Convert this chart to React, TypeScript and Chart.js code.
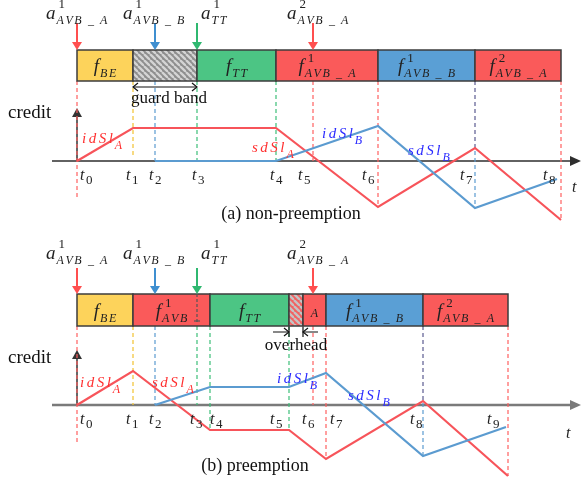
import React, { useEffect, useRef } from 'react';
import { Chart, registerables } from 'chart.js';
Chart.register(...registerables);

const W = 581;
const H = 485;

// ---------------- panel (a) non-preemption ----------------
const framesA_start = [77, 133, 197, 276, 378, 475];
const framesA_end = [133, 197, 276, 378, 475, 561];
const framesA_kind = ['BE', 'GB', 'TT', 'A', 'B', 'A'];
const framesA_base = ['f', '', 'f', 'f', 'f', 'f'];
const framesA_sup = ['', '', '', '1', '1', '2'];
const framesA_sub = ['BE', '', 'TT', 'AVB _ A', 'AVB _ B', 'AVB _ A'];

const arrA_x = [77, 155, 197, 313];
const arrA_kind = ['A', 'B', 'TT', 'A'];
const arrA_sup = ['1', '1', '1', '2'];
const arrA_sub = ['AVB _ A', 'AVB _ B', 'TT', 'AVB _ A'];
const arrA_labelX = [46, 123, 201, 287];

const creditA_A_t = [77, 133, 276, 378, 475, 561];
const creditA_A_v = [0, 33, 33, -46, 13, -59];
const creditA_B_t = [155, 276, 378, 475, 557];
const creditA_B_v = [0, 0, 35, -47, -18];

const guidesA_t = [77, 133, 155, 197, 276, 313, 378, 475, 475, 561];
const guidesA_kind = ['A', 'BE', 'B', 'TT', 'TT', 'A', 'A', 'A', 'B', 'A'];
const guidesA_end = [-37, 5, 0, 0, 0, 0, -46, 13, -47, -59];

const ticksA_t = [80, 126, 149, 192, 270, 298, 362, 460, 543];
const ticksA_label = ['0', '1', '2', '3', '4', '5', '6', '7', '8'];

const curveLblA_text = ['idSl', 'sdSl', 'idSl', 'sdSl'];
const curveLblA_sub = ['A', 'A', 'B', 'B'];
const curveLblA_t = [82, 252, 322, 408];
const curveLblA_v = [18, 9, 23, 6];

// ---------------- panel (b) preemption ----------------
const framesB_start = [77, 133, 210, 289, 303, 326, 423];
const framesB_end = [133, 210, 289, 303, 326, 423, 508];
const framesB_kind = ['BE', 'A', 'TT', 'OH', 'A', 'B', 'A'];
const framesB_base = ['f', 'f', 'f', '', '', 'f', 'f'];
const framesB_sup = ['', '1', '', '', '', '1', '2'];
const framesB_sub = ['BE', 'AVB', 'TT', '', 'A', 'AVB _ B', 'AVB _ A'];

const arrB_x = [77, 155, 197, 313];
const arrB_kind = ['A', 'B', 'TT', 'A'];
const arrB_sup = ['1', '1', '1', '2'];
const arrB_sub = ['AVB _ A', 'AVB _ B', 'TT', 'AVB _ A'];
const arrB_labelX = [46, 123, 201, 287];

const creditB_A_t = [77, 133, 210, 289, 326, 423, 508];
const creditB_A_v = [0, 34, -25, -25, -54, 4, -71];
const creditB_B_t = [155, 210, 289, 326, 423, 506];
const creditB_B_v = [0, 18, 18, 32, -51, -22];

const guidesB_t = [77, 133, 155, 197, 210, 289, 313, 326, 423, 423, 508];
const guidesB_kind = ['A', 'BE', 'B', 'TT', 'TT', 'TT', 'A', 'A', 'A', 'B', 'A'];
const guidesB_end = [-39, 0, 0, 0, -25, -25, 0, -54, 4, -51, -71];

const ticksB_t = [80, 126, 149, 190, 210, 270, 302, 330, 410, 487];
const ticksB_label = ['0', '1', '2', '3', '4', '5', '6', '7', '8', '9'];

const curveLblB_text = ['idSl', 'sdSl', 'idSl', 'sdSl'];
const curveLblB_sub = ['A', 'A', 'B', 'B'];
const curveLblB_t = [80, 152, 277, 348];
const curveLblB_v = [18, 18, 22, 5];

// ---------------- styles ----------------
const BOX_FILL: Record<string, string> = { BE: '#fdd35b', TT: '#4cc584', A: '#fa5a5a', B: '#5a9fd5' };
const LINE_COLOR: Record<string, string> = { A: '#f7545a', B: '#5b9bd0' };
const GUIDE_COLOR: Record<string, string> = { A: '#ff6060', BE: '#f2c230', B: '#5b9bd0', TT: '#3cbf78' };
const ARROW_COLOR: Record<string, string> = { A: '#ff4f4f', B: '#3f8fd0', TT: '#2fb870' };
const TEXT_COLOR: Record<string, string> = { A: '#ff3030', B: '#2b2bff' };

const SERIF = '"Liberation Serif", "DejaVu Serif", serif';
const font = (size: number, italic = false) => `${italic ? 'italic ' : ''}${size}px ${SERIF}`;

function spacedWidth(ctx: CanvasRenderingContext2D, text: string, sp: number) {
  let w = 0;
  const chars = [...text];
  chars.forEach((ch, i) => {
    w += ctx.measureText(ch).width + (i < chars.length - 1 ? sp : 0);
  });
  return w;
}
function drawSpaced(ctx: CanvasRenderingContext2D, text: string, x: number, y: number, sp: number) {
  let cx = x;
  for (const ch of text) {
    ctx.fillText(ch, cx, y);
    cx += ctx.measureText(ch).width + sp;
  }
  return cx - sp;
}

type MathStyle = { bs: number; ss: number; ps: number; gap: number; sp: number; subDy: number; supDy: number; supDx: number };
const ARR_STYLE: MathStyle = { bs: 19, ss: 12, ps: 13, gap: 1, sp: 1.6, subDy: 5, supDy: -11, supDx: 2 };
const BOX_STYLE: MathStyle = { bs: 19, ss: 12, ps: 13, gap: 1, sp: 1.6, subDy: 5, supDy: -10, supDx: 3 };

function mathWidth(ctx: CanvasRenderingContext2D, base: string, sup: string, sub: string, st: MathStyle) {
  ctx.font = font(st.bs, true);
  const bw = base ? ctx.measureText(base).width + st.gap : 0;
  ctx.font = font(st.ss, true);
  const sw = sub ? spacedWidth(ctx, sub, st.sp) : 0;
  ctx.font = font(st.ps);
  const pw = sup ? ctx.measureText(sup).width + st.supDx : 0;
  return bw + Math.max(sw, pw);
}
function drawMath(ctx: CanvasRenderingContext2D, x: number, y: number, base: string, sup: string, sub: string, st: MathStyle) {
  ctx.textAlign = 'left';
  ctx.textBaseline = 'alphabetic';
  let cx = x;
  if (base) {
    ctx.font = font(st.bs, true);
    ctx.fillText(base, x, y);
    cx += ctx.measureText(base).width + st.gap;
  }
  if (sub) {
    ctx.font = font(st.ss, true);
    drawSpaced(ctx, sub, cx, y + (base ? st.subDy : 0), st.sp);
  }
  if (sup) {
    ctx.font = font(st.ps);
    ctx.fillText(sup, cx + st.supDx, y + st.supDy);
  }
}

function tri(ctx: CanvasRenderingContext2D, x: number, y: number, dir: 'down' | 'up' | 'right', len: number, half: number, color: string) {
  ctx.fillStyle = color;
  ctx.beginPath();
  if (dir === 'down') {
    ctx.moveTo(x, y); ctx.lineTo(x - half, y - len); ctx.lineTo(x + half, y - len);
  } else if (dir === 'up') {
    ctx.moveTo(x, y); ctx.lineTo(x - half, y + len); ctx.lineTo(x + half, y + len);
  } else {
    ctx.moveTo(x, y); ctx.lineTo(x - len, y - half); ctx.lineTo(x - len, y + half);
  }
  ctx.closePath();
  ctx.fill();
}
function chevron(ctx: CanvasRenderingContext2D, x: number, y: number, dir: 1 | -1, len: number, half: number) {
  ctx.beginPath();
  ctx.moveTo(x - dir * len, y - half);
  ctx.lineTo(x, y);
  ctx.lineTo(x - dir * len, y + half);
  ctx.stroke();
}

function hatch(ctx: CanvasRenderingContext2D, bg: string, stripe: string, size: number) {
  const c = document.createElement('canvas');
  c.width = size; c.height = size;
  const g = c.getContext('2d')!;
  g.fillStyle = bg;
  g.fillRect(0, 0, size, size);
  g.strokeStyle = stripe;
  g.lineWidth = size / 2.6;
  for (const k of [-size, 0, size]) {
    g.beginPath();
    g.moveTo(k, 0);
    g.lineTo(k + size, size);
    g.stroke();
  }
  return ctx.createPattern(c, 'repeat')!;
}

type Panel = {
  y: string;
  frames: { start: number[]; end: number[]; kind: string[]; base: string[]; sup: string[]; sub: string[] };
  arr: { x: number[]; kind: string[]; sup: string[]; sub: string[]; lx: number[] };
  guides: { t: number[]; kind: string[]; end: number[] };
  ticks: { t: number[]; label: string[] };
  curveLbl: { text: string[]; sub: string[]; t: number[]; v: number[] };
  lay: {
    boxTop: number; boxBot: number; arrTop: number; arrLbl: number; boxLbl: number;
    creditTop: number; creditTxt: number; caption: number; captionX: number; captionText: string;
    axisT: number; axisTv: number; axisColor: string; axisWidth: number;
  };
  extra: 'gb' | 'oh';
};

const panels: Panel[] = [
  {
    y: 'yA',
    frames: { start: framesA_start, end: framesA_end, kind: framesA_kind, base: framesA_base, sup: framesA_sup, sub: framesA_sub },
    arr: { x: arrA_x, kind: arrA_kind, sup: arrA_sup, sub: arrA_sub, lx: arrA_labelX },
    guides: { t: guidesA_t, kind: guidesA_kind, end: guidesA_end },
    ticks: { t: ticksA_t, label: ticksA_label },
    curveLbl: { text: curveLblA_text, sub: curveLblA_sub, t: curveLblA_t, v: curveLblA_v },
    lay: {
      boxTop: 111, boxBot: 80, arrTop: 138, arrLbl: 142, boxLbl: 89, creditTop: 53, creditTxt: 43,
      caption: -58, captionX: 291, captionText: '(a) non-preemption', axisT: 572, axisTv: -31,
      axisColor: '#2e2e2e', axisWidth: 1.5,
    },
    extra: 'gb',
  },
  {
    y: 'yB',
    frames: { start: framesB_start, end: framesB_end, kind: framesB_kind, base: framesB_base, sup: framesB_sup, sub: framesB_sub },
    arr: { x: arrB_x, kind: arrB_kind, sup: arrB_sup, sub: arrB_sub, lx: arrB_labelX },
    guides: { t: guidesB_t, kind: guidesB_kind, end: guidesB_end },
    ticks: { t: ticksB_t, label: ticksB_label },
    curveLbl: { text: curveLblB_text, sub: curveLblB_sub, t: curveLblB_t, v: curveLblB_v },
    lay: {
      boxTop: 111, boxBot: 79, arrTop: 137, arrLbl: 146, boxLbl: 88, creditTop: 55, creditTxt: 42,
      caption: -66, captionX: 255, captionText: '(b) preemption', axisT: 566, axisTv: -33,
      axisColor: '#7a7a7a', axisWidth: 2.5,
    },
    extra: 'oh',
  },
];

const diagramPlugin = {
  id: 'diagram',
  beforeDatasetsDraw(chart: any) {
    const ctx: CanvasRenderingContext2D = chart.ctx;
    const xs = chart.scales.x;
    const X = (t: number) => xs.getPixelForValue(t);
    const gbPattern = hatch(ctx, '#8e8e8e', '#d4d4d4', 6);
    const ohPattern = hatch(ctx, '#f26262', '#c4c4c4', 6);
    ctx.save();
    ctx.fillStyle = '#ffffff';
    ctx.fillRect(0, 0, chart.width, chart.height);
    for (const p of panels) {
      const ys = chart.scales[p.y];
      const Y = (v: number) => ys.getPixelForValue(v);
      const L = p.lay;
      // time axis
      ctx.strokeStyle = L.axisColor;
      ctx.lineWidth = L.axisWidth;
      ctx.setLineDash([]);
      ctx.beginPath();
      ctx.moveTo(X(52), Y(0));
      ctx.lineTo(X(574), Y(0));
      ctx.stroke();
      tri(ctx, X(581), Y(0), 'right', 11, 5, L.axisColor);
      // credit axis
      ctx.strokeStyle = '#333';
      ctx.lineWidth = 1.5;
      ctx.beginPath();
      ctx.moveTo(X(77), Y(0));
      ctx.lineTo(X(77), Y(L.creditTop) + 6);
      ctx.stroke();
      tri(ctx, X(77), Y(L.creditTop), 'up', 9, 5, '#333');
      // guides
      ctx.lineWidth = 1.2;
      ctx.setLineDash([4, 3]);
      p.guides.t.forEach((t, i) => {
        ctx.strokeStyle = GUIDE_COLOR[p.guides.kind[i]];
        ctx.beginPath();
        ctx.moveTo(X(t), Y(L.boxBot));
        ctx.lineTo(X(t), Y(p.guides.end[i]));
        ctx.stroke();
      });
      ctx.setLineDash([]);
      // frames
      p.frames.start.forEach((s, i) => {
        const k = p.frames.kind[i];
        const x0 = X(s), x1 = X(p.frames.end[i]);
        const y0 = Y(L.boxTop), y1 = Y(L.boxBot);
        ctx.fillStyle = k === 'GB' ? gbPattern : k === 'OH' ? ohPattern : BOX_FILL[k];
        ctx.fillRect(x0, y0, x1 - x0, y1 - y0);
        ctx.strokeStyle = '#3c3c3c';
        ctx.lineWidth = 1.5;
        ctx.strokeRect(x0, y0, x1 - x0, y1 - y0);
      });
      // arrival arrows
      p.arr.x.forEach((t, i) => {
        const c = ARROW_COLOR[p.arr.kind[i]];
        ctx.strokeStyle = c;
        ctx.lineWidth = 2;
        ctx.beginPath();
        ctx.moveTo(X(t), Y(L.arrTop));
        ctx.lineTo(X(t), Y(L.boxTop) - 6);
        ctx.stroke();
        tri(ctx, X(t), Y(L.boxTop), 'down', 8, 5, c);
      });
      ctx.strokeStyle = '#111';
      ctx.lineWidth = 1.2;
      if (p.extra === 'gb') {
        const yy = Y(74);
        ctx.beginPath();
        ctx.moveTo(X(133), yy); ctx.lineTo(X(197), yy);
        ctx.stroke();
        chevron(ctx, X(133), yy, -1, 5, 4);
        chevron(ctx, X(197), yy, 1, 5, 4);
      } else {
        const yy = Y(73);
        ctx.beginPath();
        ctx.moveTo(X(273), yy); ctx.lineTo(X(289), yy);
        ctx.moveTo(X(318), yy); ctx.lineTo(X(303), yy);
        ctx.moveTo(X(289), yy - 5); ctx.lineTo(X(289), yy + 5);
        ctx.moveTo(X(303), yy - 5); ctx.lineTo(X(303), yy + 5);
        ctx.stroke();
        chevron(ctx, X(289), yy, 1, 5, 4);
        chevron(ctx, X(303), yy, -1, 5, 4);
        // dashed TT arrival mark through the preempted frame
        ctx.strokeStyle = '#555';
        ctx.setLineDash([3, 2]);
        ctx.beginPath();
        ctx.moveTo(X(197), Y(L.boxTop));
        ctx.lineTo(X(197), Y(L.boxBot) - 4);
        ctx.stroke();
        ctx.setLineDash([]);
        ctx.beginPath();
        ctx.moveTo(X(194), Y(L.boxBot) - 5);
        ctx.lineTo(X(200), Y(L.boxBot) - 5);
        ctx.stroke();
      }
    }
    ctx.restore();
  },
  afterDatasetsDraw(chart: any) {
    const ctx: CanvasRenderingContext2D = chart.ctx;
    const xs = chart.scales.x;
    const X = (t: number) => xs.getPixelForValue(t);
    ctx.save();
    for (const p of panels) {
      const ys = chart.scales[p.y];
      const Y = (v: number) => ys.getPixelForValue(v);
      const L = p.lay;
      ctx.fillStyle = '#222';
      // arrival labels
      p.arr.x.forEach((_, i) => {
        drawMath(ctx, X(p.arr.lx[i]), Y(L.arrLbl), 'a', p.arr.sup[i], p.arr.sub[i], ARR_STYLE);
      });
      // frame labels
      p.frames.start.forEach((s, i) => {
        const base = p.frames.base[i], sup = p.frames.sup[i], sub = p.frames.sub[i];
        if (!base && !sub) return;
        const w = mathWidth(ctx, base, sup, sub, BOX_STYLE);
        const cx = (X(s) + X(p.frames.end[i])) / 2;
        ctx.fillStyle = '#222';
        drawMath(ctx, cx - w / 2, Y(L.boxLbl), base, sup, sub, BOX_STYLE);
      });
      // tick labels
      ctx.fillStyle = '#222';
      p.ticks.t.forEach((t, i) => {
        ctx.font = font(16, true);
        ctx.fillText('t', X(t), Y(-19));
        ctx.font = font(13);
        ctx.fillText(p.ticks.label[i], X(t) + 6, Y(-23));
      });
      ctx.font = font(16, true);
      ctx.fillText('t', X(L.axisT), Y(L.axisTv));
      // curve labels
      p.curveLbl.text.forEach((txt, i) => {
        const k = p.curveLbl.sub[i];
        ctx.fillStyle = TEXT_COLOR[k];
        ctx.font = font(15, true);
        const end = drawSpaced(ctx, txt, X(p.curveLbl.t[i]), Y(p.curveLbl.v[i]), 2.5);
        ctx.font = font(12, true);
        ctx.fillText(k, end + 2, Y(p.curveLbl.v[i]) + 6);
      });
      // plain texts
      ctx.fillStyle = '#111';
      ctx.font = font(19);
      ctx.textAlign = 'left';
      ctx.fillText('credit', X(8), Y(L.creditTxt));
      ctx.font = font(18);
      ctx.textAlign = 'center';
      ctx.fillText(L.captionText, X(L.captionX), Y(L.caption));
      ctx.font = font(17);
      if (p.extra === 'gb') ctx.fillText('guard band', X(169), Y(58));
      else ctx.fillText('overhead', X(296), Y(55));
      ctx.textAlign = 'left';
    }
    ctx.restore();
  },
};

function line(t: number[], v: number[], key: string, axis: string) {
  return {
    data: t.map((x, i) => ({ x, y: v[i] })),
    yAxisID: axis,
    borderColor: LINE_COLOR[key],
    borderWidth: 2.2,
    pointRadius: 0,
    showLine: true,
    fill: false,
    tension: 0,
  };
}

export default function App() {
  const ref = useRef<HTMLCanvasElement | null>(null);
  useEffect(() => {
    if (!ref.current) return;
    const chart = new Chart(ref.current, {
      type: 'scatter',
      data: {
        datasets: [
          line(creditA_B_t, creditA_B_v, 'B', 'yA'),
          line(creditA_A_t, creditA_A_v, 'A', 'yA'),
          line(creditB_B_t, creditB_B_v, 'B', 'yB'),
          line(creditB_A_t, creditB_A_v, 'A', 'yB'),
        ] as any,
      },
      options: {
        animation: false,
        responsive: false,
        maintainAspectRatio: false,
        layout: { padding: 0 },
        plugins: { legend: { display: false }, tooltip: { enabled: false } },
        scales: {
          x: { type: 'linear', min: 0, max: W, display: false },
          y: { type: 'linear', display: false },
          yA: { type: 'linear', min: 161 - H, max: 161, display: false },
          yB: { type: 'linear', min: 405 - H, max: 405, display: false },
        },
      } as any,
      plugins: [diagramPlugin],
    });
    return () => chart.destroy();
  }, []);
  return (
    <div style={{ position: 'fixed', left: 0, top: 0, width: W, height: H, background: '#fff' }}>
      <canvas ref={ref} width={W} height={H} style={{ width: W, height: H, display: 'block' }} />
    </div>
  );
}
